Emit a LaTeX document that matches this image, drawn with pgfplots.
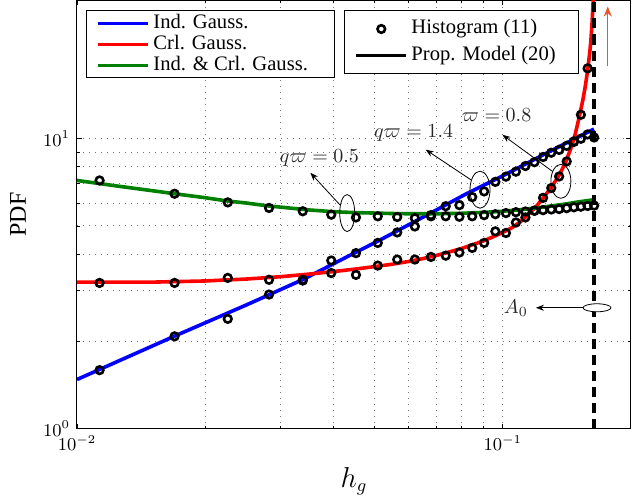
\documentclass[border=0pt]{standalone}
\usepackage{fontspec}
\setmainfont{Liberation Serif}
\usepackage{pgfplots}
\usepackage{pgfplotstable}
\pgfplotsset{compat=1.18}
\usetikzlibrary{calc,arrows.meta}

\definecolor{mgreen}{RGB}{0,128,0}
\definecolor{arrred}{RGB}{232,84,46}

% histogram points: x, Ind. Gauss., Crl. Gauss., Ind. & Crl. Gauss.
\pgfplotstableread{
x        ind    crl    both
0.01130  1.59   3.18   7.18
0.01695  2.08   3.18   6.46
0.02260  2.39   3.31   6.03
0.02825  2.90   3.26   5.77
0.03390  3.24   3.26   5.62
0.03955  3.80   3.44   5.47
0.04520  4.03   3.39   5.35
0.05085  4.37   3.65   5.40
0.05650  4.75   3.83   5.37
0.06215  4.98   3.83   5.32
0.06780  5.45   3.91   5.40
0.07345  5.85   3.95   5.40
0.07910  5.90   4.05   5.38
0.08475  6.29   4.20   5.40
0.09040  6.58   4.37   5.45
0.09605  7.10   4.79   5.49
0.10170  7.40   4.73   5.54
0.10735  7.70   5.14   5.58
0.11300  8.05   5.35   5.61
0.11865  8.30   5.65   5.64
0.12430  8.65   6.25   5.67
0.12995  8.95   6.76   5.70
0.13560  9.15   7.41   5.72
0.14125  9.45   8.35   5.76
0.14690  9.75   9.79   5.80
0.15255  10.00  12.1   5.83
0.15820  10.35  17.5   5.86
0.16385  10.10  nan    5.88
}\hist

\begin{document}
\begin{tikzpicture}
\begin{axis}[name=ax,
  xmode=log, ymode=log,
  scale only axis, width=277pt, height=214pt,
  xmin=0.01, xmax=0.2, ymin=1, ymax=30,
  axis line style={black, line width=0.5pt},
  xtick={0.01,0.1}, ytick={1,10},
  tick align=inside,
  major tick length=2.5pt, minor tick length=1.5pt,
  every tick/.style={black, line width=0.4pt},
  grid=both,
  major grid style={black!55, line width=0.5pt, dash pattern=on 0.5pt off 2.5pt},
  minor grid style={black!55, line width=0.5pt, dash pattern=on 0.5pt off 2.5pt},
  tick label style={font=\fontsize{9}{10}\selectfont},
  xlabel={$h_g$},
  xlabel style={font=\fontsize{13.5}{15}\selectfont, at={(axis description cs:0.5,0)}, anchor=center, yshift=-26.3pt},
  ylabel={PDF},
  ylabel style={font=\fontsize{12}{14}\selectfont, at={(axis description cs:-0.1065,0.5)}, anchor=center},
  legend image code/.code={\draw[#1] (0pt,0pt) -- (25pt,0pt);},
  legend cell align=left,
  legend style={at={(axis description cs:0,1)}, anchor=north west, xshift=4.5pt, yshift=-5pt,
    draw=black, line width=0.5pt, fill=white, font=\fontsize{10.3}{12}\selectfont,
    inner xsep=5pt, inner ysep=1.2pt, row sep=0.5pt,
    nodes={inner xsep=1.7pt, inner ysep=0pt, text height=7.5pt, text depth=2.5pt}},
]
\addplot[blue, line width=1.8pt] coordinates {
 (0.0100,1.476) (0.0169,2.08) (0.0250,2.67) (0.0339,3.265) (0.0420,3.84)
 (0.0516,4.48) (0.0677,5.54) (0.0820,6.45) (0.1000,7.45) (0.1300,9.10) (0.1637,10.80)};
\addlegendentry{Ind. Gauss.}
\addplot[red, line width=1.8pt] coordinates {
 (0.0100,3.20) (0.0150,3.20) (0.0200,3.23) (0.0250,3.28) (0.0300,3.34)
 (0.0350,3.41) (0.0400,3.48) (0.0450,3.55) (0.0500,3.62) (0.0550,3.69)
 (0.0600,3.77) (0.0650,3.86) (0.0700,3.96) (0.0750,4.07) (0.0800,4.18)
 (0.0850,4.31) (0.0900,4.44) (0.0950,4.59) (0.1000,4.75) (0.1050,4.93)
 (0.1100,5.17) (0.1150,5.50) (0.1200,5.85) (0.1250,6.30) (0.1300,6.80)
 (0.1350,7.40) (0.1400,8.20) (0.1450,9.40) (0.1480,10.4) (0.1510,11.8)
 (0.1540,13.5) (0.1560,15.0) (0.1580,17.0) (0.1600,19.8) (0.1610,21.8)
 (0.1620,25.0) (0.1630,30.0) (0.1635,36.0) (0.1640,45.0)};
\addlegendentry{Crl. Gauss.}
\addplot[mgreen, line width=1.8pt] coordinates {
 (0.0100,7.18) (0.0125,6.86) (0.0150,6.62) (0.0175,6.42) (0.0200,6.26)
 (0.0225,6.10) (0.0250,6.00) (0.0282,5.86) (0.0300,5.81) (0.0350,5.68)
 (0.0400,5.60) (0.0450,5.56) (0.0500,5.54) (0.0550,5.52) (0.0600,5.51)
 (0.0700,5.51) (0.0800,5.53) (0.0900,5.57) (0.1000,5.62) (0.1100,5.69)
 (0.1200,5.77) (0.1300,5.86) (0.1400,5.95) (0.1500,6.05) (0.1637,6.16)};
\addlegendentry{\makebox[84pt][l]{Ind. \& Crl. Gauss.}}

\addplot[forget plot, only marks, mark=o, black, mark size=1.9pt, mark options={line width=1.3pt}] table[x=x, y=ind] {\hist};
\addplot[forget plot, only marks, mark=o, black, mark size=1.9pt, mark options={line width=1.3pt}] table[x=x, y=crl] {\hist};
\addplot[forget plot, only marks, mark=o, black, mark size=1.9pt, mark options={line width=1.3pt}] table[x=x, y=both] {\hist};

\addplot[forget plot, black, line width=1.7pt, dash pattern=on 5pt off 3pt] coordinates {(0.1637,1) (0.1637,30)};

% annotations
\node[text=black!85, font=\fontsize{10}{12}\selectfont] at (axis cs:0.0371,8.60) {$q\varpi=0.5$};
\draw[black, line width=0.4pt] (axis cs:0.04311,5.54) ellipse [x radius=3.75pt, y radius=9.25pt];
\draw[black, line width=0.4pt, -{Stealth[length=4pt,width=3pt]}] (axis cs:0.04142,5.92) -- (axis cs:0.03533,7.63);

\node[text=black!85, font=\fontsize{10}{12}\selectfont] at (axis cs:0.06173,10.49) {$q\varpi=1.4$};
\draw[black, line width=0.4pt] (axis cs:0.0884,6.67) ellipse [x radius=5pt, y radius=9.25pt];
\draw[black, line width=0.4pt, -{Stealth[length=4pt,width=3pt]}] (axis cs:0.0841,7.22) -- (axis cs:0.0659,9.17);

\node[text=black!85, font=\fontsize{10}{12}\selectfont] at (axis cs:0.0967,12.1) {$\varpi=0.8$};
\draw[black, line width=0.4pt] (axis cs:0.1369,7.13) ellipse [x radius=5pt, y radius=8.5pt];
\draw[black, line width=0.4pt, -{Stealth[length=4pt,width=3pt]}] (axis cs:0.1309,7.71) -- (axis cs:0.0998,10.32);

\node[text=black!85, font=\fontsize{10}{12}\selectfont] at (axis cs:0.1073,2.61) {$A_0$};
\draw[black, line width=0.4pt, -{Stealth[length=4pt,width=3pt]}] (axis cs:0.1540,2.61) -- (axis cs:0.1196,2.61);
\draw[black, line width=0.4pt, fill=white] (axis cs:0.1664,2.61) ellipse [x radius=7pt, y radius=2pt];

\draw[arrred, line width=0.6pt, -{Stealth[length=5pt,width=4pt]}] (axis cs:0.1764,17.8) -- (axis cs:0.1764,28.6);
\end{axis}

\begin{axis}[
  xmode=log, ymode=log,
  scale only axis, width=277pt, height=214pt,
  xmin=0.01, xmax=0.2, ymin=1, ymax=30,
  hide axis,
  legend image code/.code={\draw[mark repeat=2,mark phase=2,#1] plot coordinates {(0pt,0pt) (12.5pt,0pt) (25pt,0pt)};},
  legend cell align=left,
  legend style={at={(axis description cs:0,1)}, anchor=north west, xshift=133.5pt, yshift=-5pt,
    draw=black, line width=0.5pt, fill=white, font=\fontsize{10.3}{12}\selectfont,
    inner xsep=5pt, inner ysep=4pt, row sep=3.3pt,
    nodes={inner xsep=1.7pt, inner ysep=0pt, text height=7.5pt, text depth=2.5pt}},
]
\addlegendimage{only marks, mark=o, black, mark size=1.9pt, mark options={line width=1.3pt}}
\addlegendentry{Histogram (11)}
\addlegendimage{black, line width=1.8pt}
\addlegendentry{\makebox[77pt][l]{Prop. Model (20)}}
\end{axis}

\pgfresetboundingbox
\path ($(ax.south west)+(-38.5pt,-35pt)$) rectangle ($(ax.north east)+(0.5pt,0.25pt)$);
\end{tikzpicture}
\end{document}
